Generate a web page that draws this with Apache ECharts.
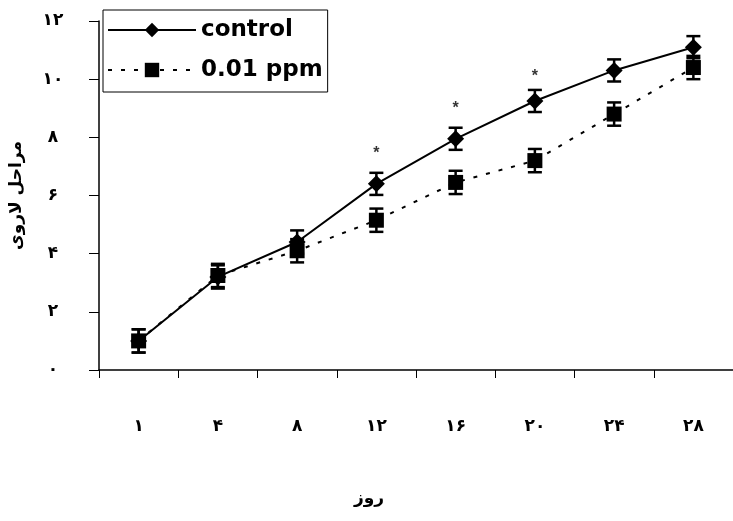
<!DOCTYPE html>
<html>
<head>
<meta charset="utf-8">
<script src="https://cdn.jsdelivr.net/npm/echarts@6/dist/echarts.min.js"></script>
<style>html,body{margin:0;padding:0;background:#fff}#c{width:733px;height:521px}</style>
</head>
<body>
<div id="c"></div>
<script>
var categories = ['۱','۴','۸','۱۲','۱۶','۲۰','۲۴','۲۸'];
var yTickLabels = ['۰','۲','۴','۶','۸','۱۰','۱۲'];
var controlValues = [1.0, 3.2, 4.4, 6.4, 7.95, 9.25, 10.3, 11.1];
var controlErrors = [0.4, 0.4, 0.4, 0.38, 0.38, 0.38, 0.38, 0.38];
var ppmValues = [1.0, 3.25, 4.1, 5.15, 6.45, 7.2, 8.8, 10.4];
var ppmErrors = [0.4, 0.4, 0.4, 0.4, 0.4, 0.4, 0.4, 0.4];
var starValues = [null, null, null, 7.45, 9.0, 10.1, null, null];
var seriesNames = ['control', '0.01 ppm'];
var xAxisName = 'روز';
var yAxisName = 'مراحل لاروی';

var chart = echarts.init(document.getElementById('c'));

function errData(vals, errs) {
  return vals.map(function (v, i) { return [i, v - errs[i], v + errs[i]]; });
}
function errRender(params, api) {
  var x = api.value(0);
  var lo = api.coord([x, api.value(1)]);
  var hi = api.coord([x, api.value(2)]);
  var w = 7;
  var st = { stroke: '#000', lineWidth: 2.5 };
  return {
    type: 'group',
    children: [
      { type: 'line', shape: { x1: lo[0], y1: lo[1], x2: hi[0], y2: hi[1] }, style: st },
      { type: 'line', shape: { x1: lo[0] - w, y1: lo[1], x2: lo[0] + w, y2: lo[1] }, style: st },
      { type: 'line', shape: { x1: hi[0] - w, y1: hi[1], x2: hi[0] + w, y2: hi[1] }, style: st }
    ]
  };
}

var font = 'DejaVu Sans';
chart.setOption({
  animation: false,
  backgroundColor: '#fff',
  grid: { left: 98, right: 0, top: 21, bottom: 151 },
  legend: {
    data: seriesNames,
    orient: 'vertical',
    left: 103,
    top: 10,
    padding: [7, 5, 9, 4],
    itemGap: 14,
    itemWidth: 88,
    itemHeight: 18,
    borderColor: '#000',
    borderWidth: 1,
    textStyle: { fontFamily: font, fontWeight: 'bold', fontSize: 23, lineHeight: 26, color: '#000' }
  },
  xAxis: {
    type: 'category',
    data: categories,
    boundaryGap: true,
    name: xAxisName,
    nameLocation: 'middle',
    nameGap: 120,
    nameTextStyle: { fontFamily: font, fontWeight: 'bold', fontSize: 17, color: '#000', padding: [0, 94, 0, 0] },
    axisLine: { lineStyle: { color: '#000', width: 1.5 } },
    axisTick: { show: true, alignWithLabel: false, length: 8, lineStyle: { color: '#000', width: 1 } },
    axisLabel: { margin: 48, fontFamily: font, fontWeight: 'bold', fontSize: 17, color: '#000' },
    splitLine: { show: false }
  },
  yAxis: {
    type: 'value',
    min: 0,
    max: 12,
    interval: 2,
    name: yAxisName,
    nameLocation: 'middle',
    nameGap: 74,
    nameRotate: 90,
    nameTextStyle: { fontFamily: font, fontWeight: 'bold', fontSize: 17, color: '#000' },
    axisLine: { show: true, lineStyle: { color: '#000', width: 1.5 } },
    axisTick: { show: true, length: 10, lineStyle: { color: '#000', width: 1 } },
    axisLabel: {
      margin: 46,
      align: 'center',
      fontFamily: font, fontWeight: 'bold', fontSize: 17, color: '#000',
      formatter: function (v) { return yTickLabels[Math.round(v / 2)]; }
    },
    splitLine: { show: false }
  },
  series: [
    {
      name: seriesNames[0],
      type: 'line',
      data: controlValues,
      symbol: 'diamond',
      symbolSize: 17,
      itemStyle: { color: '#000' },
      lineStyle: { color: '#000', width: 2 },
      z: 3
    },
    {
      name: seriesNames[1],
      type: 'line',
      data: ppmValues,
      symbol: 'rect',
      symbolSize: 15,
      itemStyle: { color: '#000' },
      lineStyle: { color: '#000', width: 2, type: [4, 9] },
      z: 3
    },
    {
      type: 'custom',
      renderItem: errRender,
      data: errData(controlValues, controlErrors),
      encode: { x: 0, y: [1, 2] },
      silent: true,
      z: 4
    },
    {
      type: 'custom',
      renderItem: errRender,
      data: errData(ppmValues, ppmErrors),
      encode: { x: 0, y: [1, 2] },
      silent: true,
      z: 4
    },
    {
      type: 'scatter',
      data: starValues,
      symbolSize: 0,
      silent: true,
      label: {
        show: true,
        position: 'inside',
        formatter: '*',
        fontFamily: 'Liberation Sans',
        fontWeight: 'bold',
        fontSize: 16,
        color: '#000'
      }
    }
  ]
});
</script>
</body>
</html>
